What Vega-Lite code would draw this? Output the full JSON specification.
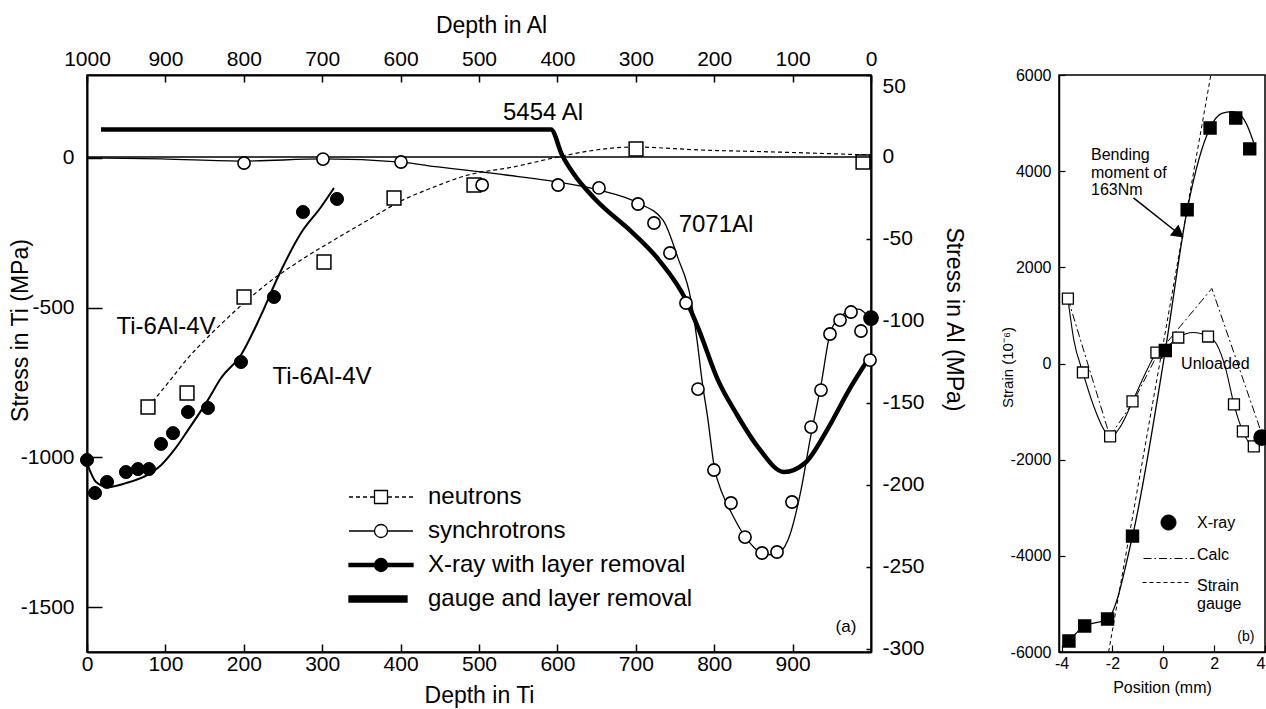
{
  "$schema": "https://vega.github.io/schema/vega-lite/v6.json",
  "padding": {"left": 8, "top": 13, "right": 0, "bottom": 0},
  "bounds": "flush",
  "spacing": 188,
  "resolve": {"scale": {"shape": "independent", "fill": "independent", "stroke": "independent"}, "legend": {"shape": "independent", "fill": "independent", "stroke": "independent"}},
  "config": {
    "font": "Liberation Sans",
    "view": {"stroke": "black", "strokeWidth": 1.5},
    "axis": {"grid": false, "domainColor": "black", "tickColor": "black", "labelColor": "black", "titleColor": "black", "titleFontWeight": "normal", "labelFont": "Liberation Sans", "titleFont": "Liberation Sans", "labelOverlap": false},
    "text": {"font": "Liberation Sans", "color": "black"}
  },
  "datasets": {
    "neutron_curve": [{"depth":77.8,"ti":-831.8},{"depth":103.3,"ti":-751.6},{"depth":128.8,"ti":-668},{"depth":154.3,"ti":-598},{"depth":200.3,"ti":-484.4},{"depth":230.9,"ti":-417.7},{"depth":273,"ti":-340.8},{"depth":315,"ti":-274},{"depth":358.4,"ti":-207.3},{"depth":400.5,"ti":-143.8},{"depth":442.6,"ti":-97},{"depth":486,"ti":-57},{"depth":543.4,"ti":-30.3},{"depth":600.8,"ti":3.2},{"depth":649.2,"ti":26.5},{"depth":696.4,"ti":36.5},{"depth":783.2,"ti":26.5},{"depth":878.8,"ti":19.8},{"depth":1000,"ti":9.8}],
    "neutron_pts": [{"depth":77.8,"ti":-831.8},{"depth":127.6,"ti":-785},{"depth":200.3,"ti":-464.4},{"depth":302.3,"ti":-347.5},{"depth":391.6,"ti":-133.8},{"depth":493.6,"ti":-90.4},{"depth":700.3,"ti":29.9},{"depth":989.8,"ti":-13.5}],
    "xray_curve": [{"depth":0,"ti":-1019},{"depth":11.5,"ti":-1082},{"depth":26.8,"ti":-1099},{"depth":49.7,"ti":-1086},{"depth":79,"ti":-1056},{"depth":94.4,"ti":-1026},{"depth":111,"ti":-976},{"depth":128.8,"ti":-909},{"depth":154.3,"ti":-808},{"depth":171,"ti":-735},{"depth":196.4,"ti":-658},{"depth":222,"ti":-525},{"depth":243.6,"ti":-397.6},{"depth":273,"ti":-250.7},{"depth":298.5,"ti":-163.9},{"depth":315,"ti":-100.4}],
    "xray_pts": [{"depth":0,"ti":-1008.8},{"depth":10.2,"ti":-1119},{"depth":25.5,"ti":-1082},{"depth":49.7,"ti":-1049},{"depth":65,"ti":-1039},{"depth":79,"ti":-1039},{"depth":94.4,"ti":-955},{"depth":109.7,"ti":-919},{"depth":128.8,"ti":-848.5},{"depth":154.3,"ti":-835},{"depth":196.4,"ti":-681.5},{"depth":238.5,"ti":-464.4},{"depth":275.5,"ti":-180.5},{"depth":318.9,"ti":-137}],
    "labels_a": [{"depth":581.6,"ti":150,"label":"5454 Al"},{"depth":802.3,"ti":-224,"label":"7071Al"},{"depth":100.8,"ti":-564.6,"label":"Ti-6Al-4V"},{"depth":299.7,"ti":-731.6,"label":"Ti-6Al-4V"}],
    "tag_a": [{"depth":968,"ti":-1566.5,"label":"(a)"}],
    "legend_a": [{"series":"neutrons","depth":-500,"ti":0},{"series":"synchrotrons","depth":-500,"ti":0},{"series":"X-ray with layer removal","depth":-500,"ti":0},{"series":"gauge and layer removal","depth":-500,"ti":0}],
    "zero_al": [{"al":0}],
    "gauge": [{"depth":17.9,"al":16.7},{"depth":591.8,"al":16.7},{"depth":605.9,"al":1.2},{"depth":620,"al":-9.8},{"depth":649.2,"al":-26.3},{"depth":696.4,"al":-46.4},{"depth":729.6,"al":-62.9},{"depth":764,"al":-87.3},{"depth":780.6,"al":-105.6},{"depth":804.8,"al":-136.1},{"depth":827.8,"al":-156.2},{"depth":855.9,"al":-177},{"depth":889,"al":-192.2},{"depth":915.8,"al":-186.7},{"depth":943.9,"al":-166.6},{"depth":971.9,"al":-142.2},{"depth":1000,"al":-120.8}],
    "synch_curve": [{"depth":0,"al":-0.6},{"depth":94.4,"al":-1.2},{"depth":200.3,"al":-2.5},{"depth":301,"al":-1.2},{"depth":400.5,"al":-3.1},{"depth":447.7,"al":-6.1},{"depth":534.4,"al":-11},{"depth":600.8,"al":-15.3},{"depth":653,"al":-20.2},{"depth":702.8,"al":-28.1},{"depth":734.7,"al":-38.5},{"depth":753.8,"al":-61.7},{"depth":770.4,"al":-87.3},{"depth":778.1,"al":-111.7},{"depth":784.4,"al":-136.1},{"depth":792.1,"al":-160.5},{"depth":799.7,"al":-188},{"depth":811.2,"al":-206.3},{"depth":821.4,"al":-216.6},{"depth":838,"al":-230.7},{"depth":861,"al":-241.6},{"depth":877.6,"al":-242.9},{"depth":894.1,"al":-233.7},{"depth":910.7,"al":-203.2},{"depth":922.2,"al":-172.7},{"depth":936.2,"al":-139.1},{"depth":949,"al":-105.6},{"depth":960.5,"al":-98.3},{"depth":974.5,"al":-92.8},{"depth":984.7,"al":-92.8},{"depth":993.6,"al":-95.8},{"depth":1000,"al":-98.3}],
    "synch_pts": [{"depth":200.3,"al":-3.7},{"depth":301,"al":-1.3},{"depth":400.5,"al":-3.1},{"depth":504,"al":-17.1},{"depth":600.8,"al":-17.1},{"depth":653,"al":-18.9},{"depth":702.8,"al":-28.7},{"depth":723.2,"al":-40.3},{"depth":743.6,"al":-58.6},{"depth":764,"al":-89.1},{"depth":779.3,"al":-141.6},{"depth":799.7,"al":-191},{"depth":821.4,"al":-211.1},{"depth":839.3,"al":-231.9},{"depth":861,"al":-241.6},{"depth":880.1,"al":-241},{"depth":899.2,"al":-210.5},{"depth":923.5,"al":-164.8},{"depth":936.2,"al":-142.2},{"depth":947.7,"al":-108},{"depth":960.5,"al":-99.5},{"depth":974.5,"al":-94.6},{"depth":987.2,"al":-106.2},{"depth":998.7,"al":-123.9}],
    "xray_al": [{"depth":1000,"al":-98.3}],
    "unl_curve": [{"pos":-3.75,"strain":1349},{"pos":-3.52,"strain":498},{"pos":-3.16,"strain":-187},{"pos":-2.73,"strain":-893},{"pos":-2.34,"strain":-1370},{"pos":-2.07,"strain":-1536},{"pos":-1.68,"strain":-1308},{"pos":-1.21,"strain":-789},{"pos":-0.63,"strain":-125},{"pos":-0.27,"strain":228},{"pos":0.16,"strain":353},{"pos":0.59,"strain":540},{"pos":1.17,"strain":644},{"pos":1.76,"strain":561},{"pos":2.1,"strain":400},{"pos":2.45,"strain":-100},{"pos":2.78,"strain":-851},{"pos":3.13,"strain":-1412},{"pos":3.56,"strain":-1723},{"pos":3.87,"strain":-1560}],
    "unl_pts": [{"pos":-3.75,"strain":1349},{"pos":-3.16,"strain":-187},{"pos":-2.09,"strain":-1515},{"pos":-1.21,"strain":-789},{"pos":-0.27,"strain":228},{"pos":0.59,"strain":540},{"pos":1.76,"strain":561},{"pos":2.78,"strain":-851},{"pos":3.13,"strain":-1412},{"pos":3.56,"strain":-1723}],
    "calc": [{"pos":-3.75,"strain":1350},{"pos":-2.1,"strain":-1515},{"pos":-1.17,"strain":-790},{"pos":-0.2,"strain":220},{"pos":1.91,"strain":1560},{"pos":3.95,"strain":-1580}],
    "gauge_b": [{"pos":-2.15,"strain":-6000},{"pos":1.87,"strain":6000}],
    "load_curve": [{"pos":-3.71,"strain":-5771},{"pos":-3.09,"strain":-5460},{"pos":-2.19,"strain":-5315},{"pos":-1.21,"strain":-3591},{"pos":0.08,"strain":270},{"pos":0.94,"strain":3197},{"pos":1.84,"strain":4899},{"pos":2.3,"strain":5200},{"pos":2.7,"strain":5240},{"pos":3.05,"strain":5160},{"pos":3.3,"strain":4950},{"pos":3.55,"strain":4600}],
    "load_pts": [{"pos":-3.71,"strain":-5771},{"pos":-3.09,"strain":-5460},{"pos":-2.19,"strain":-5315},{"pos":-1.21,"strain":-3591},{"pos":0.08,"strain":270},{"pos":0.94,"strain":3197},{"pos":1.84,"strain":4899},{"pos":2.85,"strain":5107},{"pos":3.4,"strain":4463}],
    "xray_b": [{"pos":3.87,"strain":-1540}],
    "arrow_b": [{"pos":-1.17,"strain":3446,"pos2":0.66,"strain2":2678}],
    "arrowhead_b": [{"pos":0.6,"strain":2703}],
    "labels_b": [{"pos":-2.84,"strain":4339,"label":"Bending"},{"pos":-2.84,"strain":3965,"label":"moment of"},{"pos":-2.84,"strain":3613,"label":"163Nm"},{"pos":0.7,"strain":-20,"label":"Unloaded"}],
    "tag_b": [{"pos":3.25,"strain":-5688,"label":"(b)"}],
    "legend_b": [{"series":"X-ray","pos":-10,"strain":0},{"series":"Calc","pos":-10,"strain":0},{"series":"Strain gauge","pos":-10,"strain":0}]
  },
  "hconcat": [
    {
      "width": 784,
      "height": 577,
      "layer": [
        {
          "layer": [
            {
              "data": {"name": "neutron_curve"},
              "mark": {"type": "line", "color": "black", "strokeWidth": 1.2, "strokeDash": [4, 3], "interpolate": "monotone", "clip": true},
              "encoding": {
                "x": {"field": "depth", "type": "quantitative", "scale": {"domain": [0, 1000], "nice": false, "zero": false},
                  "axis": {"title": "Depth in Ti", "orient": "bottom", "values": [0,100,200,300,400,500,600,700,800,900], "labelExpr": "'' + datum.value", "tickSize": -8, "tickWidth": 1.5, "labelPadding": 9, "labelFontSize": 21, "titleFontSize": 23, "titleY": 43, "titleBaseline": "middle", "domainWidth": 2, "labelFlush": false}},
                "y": {"field": "ti", "type": "quantitative", "scale": {"domain": [-1650, 277], "nice": false, "zero": false},
                  "axis": {"title": "Stress in Ti (MPa)", "orient": "left", "values": [0, -500, -1000, -1500], "labelExpr": "'' + datum.value", "tickSize": -15, "tickWidth": 1.5, "labelPadding": 28, "labelFontSize": 21, "titleFontSize": 23, "titleX": -67, "titleY": 255, "titleAngle": -90, "titleBaseline": "middle", "titleAlign": "center", "domainWidth": 2}}
              }
            },
            {
              "data": {"name": "xray_curve"},
              "mark": {"type": "line", "color": "black", "strokeWidth": 2, "interpolate": "monotone", "clip": true},
              "encoding": {
                "x": {"field": "depth", "type": "quantitative", "scale": {"domain": [0, 1000], "nice": false, "zero": false}},
                "y": {"field": "ti", "type": "quantitative", "scale": {"domain": [-1650, 277], "nice": false, "zero": false}}
              }
            },
            {
              "data": {"name": "neutron_pts"},
              "mark": {"type": "point", "shape": "square", "size": 190, "filled": true, "fill": "white", "stroke": "black", "strokeWidth": 1.5, "opacity": 1},
              "encoding": {
                "x": {"field": "depth", "type": "quantitative", "scale": {"domain": [0, 1000], "nice": false, "zero": false}},
                "y": {"field": "ti", "type": "quantitative", "scale": {"domain": [-1650, 277], "nice": false, "zero": false}}
              }
            },
            {
              "data": {"name": "xray_pts"},
              "mark": {"type": "point", "shape": "circle", "size": 170, "filled": true, "fill": "black", "stroke": "black", "strokeWidth": 1, "opacity": 1},
              "encoding": {
                "x": {"field": "depth", "type": "quantitative", "scale": {"domain": [0, 1000], "nice": false, "zero": false}},
                "y": {"field": "ti", "type": "quantitative", "scale": {"domain": [-1650, 277], "nice": false, "zero": false}}
              }
            },
            {
              "data": {"name": "labels_a"},
              "mark": {"type": "text", "fontSize": 24, "align": "center", "baseline": "middle"},
              "encoding": {
                "x": {"field": "depth", "type": "quantitative", "scale": {"domain": [0, 1000], "nice": false, "zero": false}},
                "y": {"field": "ti", "type": "quantitative", "scale": {"domain": [-1650, 277], "nice": false, "zero": false}},
                "text": {"field": "label"}
              }
            },
            {
              "data": {"name": "tag_a"},
              "mark": {"type": "text", "fontSize": 17, "align": "center", "baseline": "middle"},
              "encoding": {
                "x": {"field": "depth", "type": "quantitative", "scale": {"domain": [0, 1000], "nice": false, "zero": false}},
                "y": {"field": "ti", "type": "quantitative", "scale": {"domain": [-1650, 277], "nice": false, "zero": false}},
                "text": {"field": "label"}
              }
            },
            {
              "data": {"name": "legend_a"},
              "mark": {"type": "point", "size": 400, "strokeWidth": 1.3, "opacity": 1, "clip": true},
              "encoding": {
                "x": {"field": "depth", "type": "quantitative", "scale": {"domain": [0, 1000], "nice": false, "zero": false}},
                "y": {"field": "ti", "type": "quantitative", "scale": {"domain": [-1650, 277], "nice": false, "zero": false}},
                "shape": {"field": "series", "type": "nominal",
                  "scale": {"domain": ["neutrons", "synchrotrons", "X-ray with layer removal", "gauge and layer removal"],
                    "range": [
                      "M-3.2,0H-2.8M-2.5,0H-2.1M-1.8,0H-1.4M-1.1,0H-0.65M0.65,0H1.1M1.4,0H1.8M2.1,0H2.5M2.8,0H3.2M-0.65,-0.65H0.65V0.65H-0.65Z",
                      "M-3.2,0H-0.65M0.65,0H3.2M-0.65,0A0.65,0.65,0,1,1,0.65,0A0.65,0.65,0,1,1,-0.65,0Z",
                      "M-3.2,-0.15H3.2V0.15H-3.2ZM-0.65,0A0.65,0.65,0,1,1,0.65,0A0.65,0.65,0,1,1,-0.65,0Z",
                      "M-3.2,-0.3H2.6V0.3H-3.2Z"
                    ]},
                  "legend": {"orient": "none", "legendX": 282, "legendY": 410, "title": null, "labelFontSize": 24, "labelOffset": 35, "symbolSize": 400, "symbolStrokeWidth": 1.3, "symbolOpacity": 1, "rowPadding": 10, "padding": 0, "labelLimit": 500, "labelColor": "black"}},
                "fill": {"field": "series", "type": "nominal",
                  "scale": {"domain": ["neutrons", "synchrotrons", "X-ray with layer removal", "gauge and layer removal"], "range": ["white", "white", "black", "black"]},
                  "legend": {"orient": "none", "legendX": 282, "legendY": 410, "title": null, "labelFontSize": 24, "labelOffset": 35, "symbolSize": 400, "symbolStrokeWidth": 1.3, "symbolOpacity": 1, "rowPadding": 10, "padding": 0, "labelLimit": 500, "labelColor": "black"}},
                "stroke": {"field": "series", "type": "nominal",
                  "scale": {"domain": ["neutrons", "synchrotrons", "X-ray with layer removal", "gauge and layer removal"], "range": ["black", "black", "black", "black"]},
                  "legend": {"orient": "none", "legendX": 282, "legendY": 410, "title": null, "labelFontSize": 24, "labelOffset": 35, "symbolSize": 400, "symbolStrokeWidth": 1.3, "symbolOpacity": 1, "rowPadding": 10, "padding": 0, "labelLimit": 500, "labelColor": "black"}}
              }
            }
          ]
        },
        {
          "layer": [
            {
              "data": {"name": "zero_al"},
              "mark": {"type": "rule", "color": "black", "strokeWidth": 1.5},
              "encoding": {
                "y": {"field": "al", "type": "quantitative", "scale": {"domain": [-302, 50], "nice": false, "zero": false},
                  "axis": {"title": "Stress in Al (MPa)", "orient": "right", "values": [50, 0, -50, -100, -150, -200, -250, -300], "labelExpr": "'' + datum.value", "tickSize": -5, "tickWidth": 1.5, "labelPadding": 16, "labelFontSize": 21, "titleFontSize": 23, "titleX": 82, "titleY": 244, "titleAngle": 90, "titleBaseline": "middle", "titleAlign": "center", "domainWidth": 2, "labelFlush": true}}
              }
            },
            {
              "data": {"name": "gauge"},
              "mark": {"type": "line", "color": "black", "strokeWidth": 4.5, "interpolate": "monotone", "clip": true},
              "encoding": {
                "x": {"field": "depth", "type": "quantitative", "scale": {"domain": [0, 1000], "nice": false, "zero": false},
                  "axis": {"title": "Depth in Al", "orient": "top", "values": [0,100,200,300,400,500,600,700,800,900,1000], "labelExpr": "'' + (1000 - datum.value)", "tickSize": -7, "tickWidth": 1.5, "labelPadding": 13, "labelFontSize": 21, "titleFontSize": 23, "titleX": 404, "titleY": -50, "titleBaseline": "middle", "domainWidth": 2, "labelFlush": false}},
                "y": {"field": "al", "type": "quantitative", "scale": {"domain": [-302, 50], "nice": false, "zero": false}}
              }
            },
            {
              "data": {"name": "synch_curve"},
              "mark": {"type": "line", "color": "black", "strokeWidth": 1.3, "interpolate": "monotone", "clip": true},
              "encoding": {
                "x": {"field": "depth", "type": "quantitative", "scale": {"domain": [0, 1000], "nice": false, "zero": false}},
                "y": {"field": "al", "type": "quantitative", "scale": {"domain": [-302, 50], "nice": false, "zero": false}}
              }
            },
            {
              "data": {"name": "synch_pts"},
              "mark": {"type": "point", "shape": "circle", "size": 150, "filled": true, "fill": "white", "stroke": "black", "strokeWidth": 1.6, "opacity": 1},
              "encoding": {
                "x": {"field": "depth", "type": "quantitative", "scale": {"domain": [0, 1000], "nice": false, "zero": false}},
                "y": {"field": "al", "type": "quantitative", "scale": {"domain": [-302, 50], "nice": false, "zero": false}}
              }
            },
            {
              "data": {"name": "xray_al"},
              "mark": {"type": "point", "shape": "circle", "size": 190, "filled": true, "fill": "black", "stroke": "black", "opacity": 1},
              "encoding": {
                "x": {"field": "depth", "type": "quantitative", "scale": {"domain": [0, 1000], "nice": false, "zero": false}},
                "y": {"field": "al", "type": "quantitative", "scale": {"domain": [-302, 50], "nice": false, "zero": false}}
              }
            }
          ]
        }
      ],
      "resolve": {"scale": {"y": "independent"}, "axis": {"x": "independent", "y": "independent"}}
    },
    {
      "width": 206,
      "height": 577,
      "layer": [
        {
          "data": {"name": "gauge_b"},
          "mark": {"type": "line", "color": "black", "strokeWidth": 1, "strokeDash": [4, 3], "clip": true},
          "encoding": {
            "x": {"field": "pos", "type": "quantitative", "scale": {"domain": [-4.1, 4.0], "nice": false, "zero": false},
              "axis": {"title": "Position (mm)", "values": [-4, -2, 0, 2, 4], "labelExpr": "'' + datum.value", "tickSize": -7, "tickWidth": 1.2, "labelPadding": 10, "labelFontSize": 16, "titleFontSize": 16, "titleY": 35, "titleBaseline": "middle", "labelFlush": true, "domainWidth": 1.5}},
            "y": {"field": "strain", "type": "quantitative", "scale": {"domain": [-6000, 6000], "nice": false, "zero": false},
              "axis": {"title": "Strain (10⁻⁶)", "values": [-6000, -4000, -2000, 0, 2000, 4000, 6000], "labelExpr": "'' + datum.value", "tickSize": -6, "tickWidth": 1.2, "labelPadding": 14, "labelFontSize": 16, "titleFontSize": 15, "titleX": -52, "titleY": 292, "titleAngle": -90, "titleBaseline": "middle", "titleAlign": "center", "domainWidth": 1.5}}
          }
        },
        {
          "data": {"name": "calc"},
          "mark": {"type": "line", "color": "black", "strokeWidth": 1, "strokeDash": [8, 3, 2, 3], "clip": true},
          "encoding": {
            "x": {"field": "pos", "type": "quantitative", "scale": {"domain": [-4.1, 4.0], "nice": false, "zero": false}},
            "y": {"field": "strain", "type": "quantitative", "scale": {"domain": [-6000, 6000], "nice": false, "zero": false}}
          }
        },
        {
          "data": {"name": "unl_curve"},
          "mark": {"type": "line", "color": "black", "strokeWidth": 1.1, "interpolate": "monotone", "clip": true},
          "encoding": {
            "x": {"field": "pos", "type": "quantitative", "scale": {"domain": [-4.1, 4.0], "nice": false, "zero": false}},
            "y": {"field": "strain", "type": "quantitative", "scale": {"domain": [-6000, 6000], "nice": false, "zero": false}}
          }
        },
        {
          "data": {"name": "load_curve"},
          "mark": {"type": "line", "color": "black", "strokeWidth": 1.3, "interpolate": "monotone", "clip": true},
          "encoding": {
            "x": {"field": "pos", "type": "quantitative", "scale": {"domain": [-4.1, 4.0], "nice": false, "zero": false}},
            "y": {"field": "strain", "type": "quantitative", "scale": {"domain": [-6000, 6000], "nice": false, "zero": false}}
          }
        },
        {
          "data": {"name": "unl_pts"},
          "mark": {"type": "point", "shape": "square", "size": 120, "filled": true, "fill": "white", "stroke": "black", "strokeWidth": 1.3, "opacity": 1},
          "encoding": {
            "x": {"field": "pos", "type": "quantitative", "scale": {"domain": [-4.1, 4.0], "nice": false, "zero": false}},
            "y": {"field": "strain", "type": "quantitative", "scale": {"domain": [-6000, 6000], "nice": false, "zero": false}}
          }
        },
        {
          "data": {"name": "load_pts"},
          "mark": {"type": "point", "shape": "square", "size": 130, "filled": true, "fill": "black", "stroke": "black", "opacity": 1},
          "encoding": {
            "x": {"field": "pos", "type": "quantitative", "scale": {"domain": [-4.1, 4.0], "nice": false, "zero": false}},
            "y": {"field": "strain", "type": "quantitative", "scale": {"domain": [-6000, 6000], "nice": false, "zero": false}}
          }
        },
        {
          "data": {"name": "xray_b"},
          "mark": {"type": "point", "shape": "circle", "size": 220, "filled": true, "fill": "black", "stroke": "black", "opacity": 1},
          "encoding": {
            "x": {"field": "pos", "type": "quantitative", "scale": {"domain": [-4.1, 4.0], "nice": false, "zero": false}},
            "y": {"field": "strain", "type": "quantitative", "scale": {"domain": [-6000, 6000], "nice": false, "zero": false}}
          }
        },
        {
          "data": {"name": "arrow_b"},
          "mark": {"type": "rule", "color": "black", "strokeWidth": 1.5},
          "encoding": {
            "x": {"field": "pos", "type": "quantitative", "scale": {"domain": [-4.1, 4.0], "nice": false, "zero": false}},
            "y": {"field": "strain", "type": "quantitative", "scale": {"domain": [-6000, 6000], "nice": false, "zero": false}},
            "x2": {"field": "pos2"},
            "y2": {"field": "strain2"}
          }
        },
        {
          "data": {"name": "arrowhead_b"},
          "mark": {"type": "point", "shape": "triangle-up", "size": 110, "filled": true, "fill": "black", "stroke": "black", "angle": 128, "opacity": 1},
          "encoding": {
            "x": {"field": "pos", "type": "quantitative", "scale": {"domain": [-4.1, 4.0], "nice": false, "zero": false}},
            "y": {"field": "strain", "type": "quantitative", "scale": {"domain": [-6000, 6000], "nice": false, "zero": false}}
          }
        },
        {
          "data": {"name": "labels_b"},
          "mark": {"type": "text", "fontSize": 16, "align": "left", "baseline": "middle"},
          "encoding": {
            "x": {"field": "pos", "type": "quantitative", "scale": {"domain": [-4.1, 4.0], "nice": false, "zero": false}},
            "y": {"field": "strain", "type": "quantitative", "scale": {"domain": [-6000, 6000], "nice": false, "zero": false}},
            "text": {"field": "label"}
          }
        },
        {
          "data": {"name": "tag_b"},
          "mark": {"type": "text", "fontSize": 14, "align": "center", "baseline": "middle"},
          "encoding": {
            "x": {"field": "pos", "type": "quantitative", "scale": {"domain": [-4.1, 4.0], "nice": false, "zero": false}},
            "y": {"field": "strain", "type": "quantitative", "scale": {"domain": [-6000, 6000], "nice": false, "zero": false}},
            "text": {"field": "label"}
          }
        },
        {
          "data": {"name": "legend_b"},
          "mark": {"type": "point", "size": 400, "strokeWidth": 1, "opacity": 1, "clip": true},
          "encoding": {
            "x": {"field": "pos", "type": "quantitative", "scale": {"domain": [-4.1, 4.0], "nice": false, "zero": false}},
            "y": {"field": "strain", "type": "quantitative", "scale": {"domain": [-6000, 6000], "nice": false, "zero": false}},
            "shape": {"field": "series", "type": "nominal",
              "scale": {"domain": ["X-ray", "Calc", "Strain gauge"],
                "range": [
                  "M-0.75,0A0.75,0.75,0,1,1,0.75,0A0.75,0.75,0,1,1,-0.75,0Z",
                  "M-2.5,0.4H-1.7M-1.4,0.4H-1.25M-0.95,0.4H-0.15M0.15,0.4H0.3M0.6,0.4H1.4M1.7,0.4H1.85M2.15,0.4H2.6",
                  "M-2.6,-0.3H-2.2M-1.9,-0.3H-1.5M-1.2,-0.3H-0.8M-0.5,-0.3H-0.1M0.2,-0.3H0.6M0.9,-0.3H1.3M1.6,-0.3H2.0"
                ]},
              "legend": {"orient": "none", "legendX": 99, "legendY": 437, "title": null, "labelFontSize": 16, "labelOffset": 18, "symbolSize": 400, "symbolStrokeWidth": 1, "symbolOpacity": 1, "rowPadding": 12, "padding": 0, "labelColor": "black", "labelExpr": "datum.label == 'Strain gauge' ? ['Strain', 'gauge'] : datum.label"}},
            "fill": {"field": "series", "type": "nominal",
              "scale": {"domain": ["X-ray", "Calc", "Strain gauge"], "range": ["black", "transparent", "transparent"]},
              "legend": {"orient": "none", "legendX": 99, "legendY": 437, "title": null, "labelFontSize": 16, "labelOffset": 18, "symbolSize": 400, "symbolStrokeWidth": 1, "symbolOpacity": 1, "rowPadding": 12, "padding": 0, "labelColor": "black", "labelExpr": "datum.label == 'Strain gauge' ? ['Strain', 'gauge'] : datum.label"}},
            "stroke": {"field": "series", "type": "nominal",
              "scale": {"domain": ["X-ray", "Calc", "Strain gauge"], "range": ["black", "black", "black"]},
              "legend": {"orient": "none", "legendX": 99, "legendY": 437, "title": null, "labelFontSize": 16, "labelOffset": 18, "symbolSize": 400, "symbolStrokeWidth": 1, "symbolOpacity": 1, "rowPadding": 12, "padding": 0, "labelColor": "black", "labelExpr": "datum.label == 'Strain gauge' ? ['Strain', 'gauge'] : datum.label"}}
          }
        }
      ]
    }
  ]
}
